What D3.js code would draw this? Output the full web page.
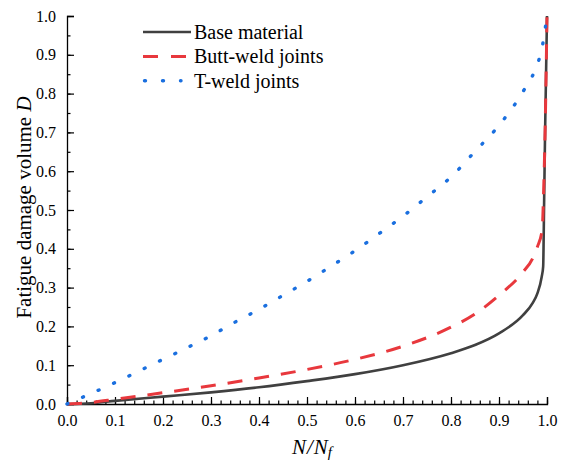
<!DOCTYPE html>
<html>
<head>
<meta charset="utf-8">
<script src="https://cdn.jsdelivr.net/npm/d3@7"></script>
<style>
  body { margin: 0; background: #fff; }
  svg text { font-family: 'Liberation Serif', 'Times New Roman', serif; }
</style>
</head>
<body>
<div class="chart"></div>
<script>
// values
var baseN = [0, 0.05, 0.1, 0.2, 0.3, 0.4, 0.5, 0.6, 0.7, 0.8, 0.85, 0.9, 0.95, 0.97, 0.98, 0.989, 0.992, 0.994, 0.996, 1.0];
var baseD = [0, 0.002, 0.008, 0.019, 0.03, 0.043, 0.059, 0.077, 0.1, 0.131, 0.152, 0.182, 0.229, 0.26, 0.285, 0.328, 0.354, 0.52, 0.7, 1.0];

var buttN = [0, 0.05, 0.1, 0.2, 0.3, 0.4, 0.5, 0.6, 0.7, 0.8, 0.85, 0.9, 0.95, 0.97, 0.98, 0.99, 0.993, 0.996, 1.0];
var buttD = [0, 0.004, 0.012, 0.029, 0.047, 0.067, 0.089, 0.115, 0.149, 0.198, 0.232, 0.28, 0.34, 0.375, 0.405, 0.45, 0.55, 0.7, 1.0];

var tN = [0, 0.05, 0.1, 0.15, 0.2, 0.25, 0.3, 0.35, 0.4, 0.45, 0.5, 0.55, 0.6, 0.65, 0.7, 0.75, 0.8, 0.85, 0.9, 0.95, 0.975, 0.99, 1.0];
var tD = [0, 0.027, 0.055, 0.085, 0.115, 0.145, 0.176, 0.211, 0.244, 0.28, 0.316, 0.355, 0.395, 0.439, 0.484, 0.534, 0.585, 0.651, 0.718, 0.805, 0.861, 0.92, 1.0];

var seriesNames = ["Base material", "Butt-weld joints", "T-weld joints"];
var xTicks = [0, 0.1, 0.2, 0.3, 0.4, 0.5, 0.6, 0.7, 0.8, 0.9, 1.0];
var yTicks = [0, 0.1, 0.2, 0.3, 0.4, 0.5, 0.6, 0.7, 0.8, 0.9, 1.0];

var width = 563, height = 463;
var margin = {top: 16, right: 16, bottom: 59, left: 67};
var w = width - margin.left - margin.right,
    h = height - margin.top - margin.bottom;

var svg = d3.select(".chart")
  .append("svg")
    .attr("width", width)
    .attr("height", height)
  .append("g")
    .attr("transform", "translate(" + margin.left + "," + margin.top + ")");

var x = d3.scaleLinear().domain([0, 1]).range([0, w]);
var y = d3.scaleLinear().domain([0, 1]).range([h, 0]);

// minor ticks first, then major ticks with labels (all ticks point inward)
svg.append("g")
    .attr("transform", "translate(0," + h + ")")
    .call(d3.axisBottom(x).tickValues(d3.range(0, 1.001, 0.02)).tickSize(-3.5).tickFormat(""))
    .call(function(g) { g.select(".domain").remove(); });
svg.append("g")
    .attr("transform", "translate(0," + h + ")")
    .call(d3.axisBottom(x).tickValues(xTicks).tickSize(-7).tickPadding(11).tickFormat(d3.format(".1f")))
    .attr("font-size", 16)
    .call(function(g) { g.selectAll("text").attr("fill", "#000"); });

svg.append("g")
    .call(d3.axisLeft(y).tickValues(d3.range(0, 1.001, 0.05)).tickSize(-3.5).tickFormat(""))
    .call(function(g) { g.select(".domain").remove(); });
svg.append("g")
    .call(d3.axisLeft(y).tickValues(yTicks).tickSize(-7).tickPadding(11).tickFormat(d3.format(".1f")))
    .attr("font-size", 16)
    .call(function(g) { g.selectAll("text").attr("fill", "#000"); });

svg.selectAll(".domain").attr("stroke", "#000").attr("stroke-width", 1.3);
svg.selectAll(".tick line").attr("stroke", "#000").attr("stroke-width", 1.2);

var line = d3.line()
    .x(function(d) { return x(d[0]); })
    .y(function(d) { return y(d[1]); })
    .curve(d3.curveMonotoneX);

var series = [
  {name: seriesNames[0], data: d3.zip(baseN, baseD), color: "#404040", width: 2.6, dash: null, cap: "butt", legDash: null, legLen: 48},
  {name: seriesNames[1], data: d3.zip(buttN, buttD), color: "#e8383d", width: 3, dash: "15,12", cap: "butt", legDash: "15,13", legLen: 44},
  {name: seriesNames[2], data: d3.zip(tN, tD), color: "#1a6fdf", width: 3.4, dash: "1,16", cap: "round", legDash: "1,17", legLen: 38}
];

series.forEach(function(s) {
  svg.append("path")
      .datum(s.data)
      .attr("fill", "none")
      .attr("stroke", s.color)
      .attr("stroke-width", s.width)
      .attr("stroke-dasharray", s.dash)
      .attr("stroke-linecap", s.cap)
      .attr("d", line);
});

// legend
var legend = svg.append("g").attr("transform", "translate(76,16)");
series.forEach(function(s, i) {
  var row = legend.append("g").attr("transform", "translate(0," + (i * 24.4) + ")");
  row.append("line")
      .attr("x1", s.cap === "round" ? 1.5 : 0).attr("x2", s.legLen).attr("y1", 0).attr("y2", 0)
      .attr("stroke", s.color)
      .attr("stroke-width", s.width)
      .attr("stroke-dasharray", s.legDash)
      .attr("stroke-linecap", s.cap);
  row.append("text")
      .attr("x", 51)
      .attr("y", 7)
      .attr("font-size", 20)
      .text(s.name);
});

// axis titles
var yTitle = svg.append("text")
    .attr("transform", "translate(-36.5,191.5) rotate(-90)")
    .attr("text-anchor", "middle")
    .attr("font-size", 21);
yTitle.append("tspan").text("Fatigue damage volume ");
yTitle.append("tspan").attr("font-style", "italic").text("D");

var xTitle = svg.append("text")
    .attr("x", w / 2 + 5)
    .attr("y", h + 50)
    .attr("text-anchor", "middle")
    .attr("font-size", 21)
    .attr("font-style", "italic");
xTitle.append("tspan").text("N");
xTitle.append("tspan").attr("dx", 1).text("/");
xTitle.append("tspan").attr("dx", 1).text("N");
xTitle.append("tspan").attr("font-size", 15).attr("dy", 3).text("f");
</script>
</body>
</html>
